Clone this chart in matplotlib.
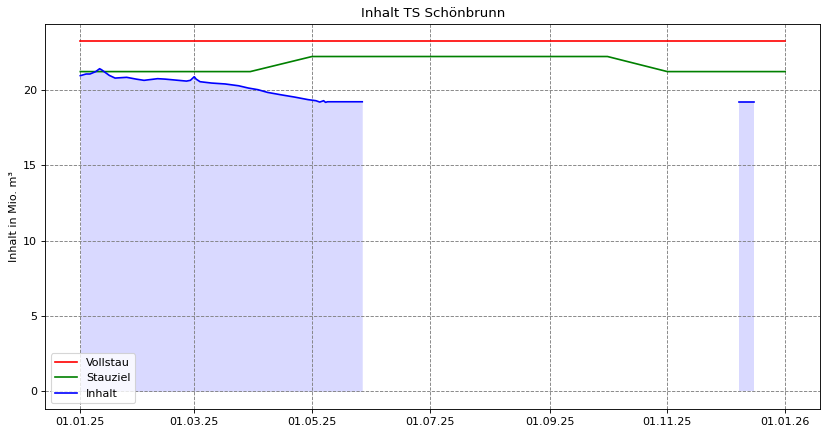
import numpy as np
import pandas as pd
import matplotlib
matplotlib.use("Agg")
import matplotlib.pyplot as plt
import matplotlib.dates as mdates

# === DATA ===
vollstau_dates = ["2025-01-01", "2026-01-01"]
vollstau_values = [23.2, 23.2]

stauziel_dates = ["2025-01-01", "2025-03-30", "2025-05-01", "2025-10-01", "2025-11-01", "2026-01-01"]
stauziel_values = [21.2, 21.2, 22.2, 22.2, 21.2, 21.2]

inhalt_dates = [
    "2025-01-01", "2025-01-04", "2025-01-06", "2025-01-09", "2025-01-11", "2025-01-12",
    "2025-01-16", "2025-01-19", "2025-01-25", "2025-01-30", "2025-02-03", "2025-02-10",
    "2025-02-14", "2025-02-25", "2025-02-27", "2025-03-01", "2025-03-02", "2025-03-04",
    "2025-03-10", "2025-03-17", "2025-03-24", "2025-03-29", "2025-04-03", "2025-04-08",
    "2025-04-15", "2025-04-22", "2025-04-29", "2025-05-03", "2025-05-05", "2025-05-07",
    "2025-05-08", "2025-05-09", "2025-05-27",
]
inhalt_values = [
    20.93, 21.04, 21.04, 21.20, 21.39, 21.32,
    20.95, 20.77, 20.82, 20.70, 20.62, 20.73,
    20.70, 20.57, 20.62, 20.86, 20.70, 20.53,
    20.44, 20.38, 20.26, 20.11, 20.00, 19.82,
    19.66, 19.51, 19.34, 19.27, 19.18, 19.27,
    19.16, 19.20, 19.20,
]

inhalt2_dates = ["2025-12-08", "2025-12-16"]
inhalt2_values = [19.2, 19.2]


def main():
    fig, ax = plt.subplots(figsize=(827 / 80, 435 / 80), dpi=80)
    fig.subplots_adjust(left=0.0545, right=0.992, top=0.945, bottom=0.06)

    ax.plot(pd.to_datetime(vollstau_dates), vollstau_values, color="red", linewidth=1.5, label="Vollstau")
    ax.plot(pd.to_datetime(stauziel_dates), stauziel_values, color="green", linewidth=1.5, label="Stauziel")

    d1 = pd.to_datetime(inhalt_dates)
    d2 = pd.to_datetime(inhalt2_dates)
    ax.plot(d1, inhalt_values, color="blue", linewidth=1.5, label="Inhalt")
    ax.plot(d2, inhalt2_values, color="blue", linewidth=1.5)
    ax.fill_between(d1, 0, inhalt_values, color="blue", alpha=0.15, linewidth=0)
    ax.fill_between(d2, 0, inhalt2_values, color="blue", alpha=0.15, linewidth=0)

    ax.xaxis.set_major_locator(mdates.MonthLocator(bymonth=[1, 3, 5, 7, 9, 11]))
    ax.xaxis.set_major_formatter(mdates.DateFormatter("%d.%m.%y"))

    ax.set_title("Inhalt TS Schönbrunn")
    ax.set_ylabel("Inhalt in Mio. m³")
    ax.grid(True, color="gray", linestyle="--")
    ax.legend(loc="lower left")

    fig.savefig("out.png", dpi=80)
    plt.close(fig)


if __name__ == "__main__":
    main()
